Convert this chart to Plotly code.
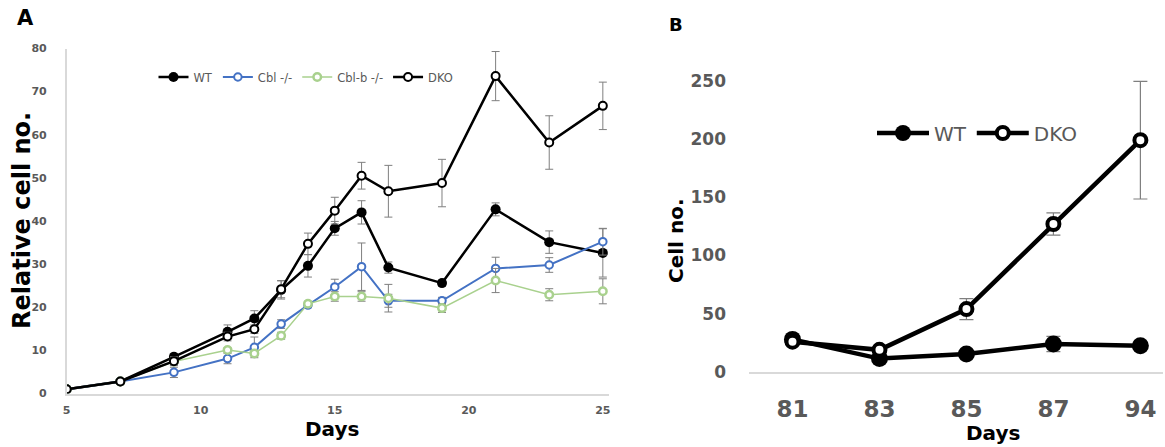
import plotly.graph_objects as go

# ---------------- Panel A data ----------------
days_a = [5, 7, 9, 11, 12, 13, 14, 15, 16, 17, 19, 21, 23, 25]
wt_a = [1, 2.8, 8.5, 14.3, 17.4, 24.0, 29.6, 38.3, 42.0, 29.2, 25.6, 42.7, 35.1, 32.6]
wt_a_err = [0, 0.3, 0.8, 1.6, 1.8, 2.1, 2.6, 1.6, 2.7, 1.3, 0.7, 1.5, 2.6, 5.6]
cbl_a = [1, 2.8, 4.9, 8.1, 10.7, 16.1, 20.5, 24.7, 29.4, 21.5, 21.5, 29.0, 29.8, 35.2]
cbl_a_err = [0, 0.2, 1.2, 1.2, 2.4, 1.0, 0.6, 1.8, 5.5, 1.5, 0.8, 2.6, 1.7, 3.1]
cblb_a = [1, 2.8, 7.4, 10.1, 9.3, 13.4, 20.8, 22.5, 22.5, 22.1, 19.8, 26.2, 22.9, 23.7]
cblb_a_err = [0, 0.2, 0.6, 0.5, 0.6, 0.8, 0.6, 1.1, 1.1, 3.2, 1.0, 2.8, 1.4, 2.9]
dko_a = [1, 2.8, 7.5, 13.2, 14.9, 24.2, 34.7, 42.4, 50.5, 46.9, 48.8, 73.6, 58.2, 66.7]
dko_a_err = [0, 0.2, 1.0, 1.0, 1.0, 2.0, 2.5, 3.1, 3.1, 6.0, 5.5, 5.7, 6.2, 5.5]
xticks_a = [5, 10, 15, 20, 25]
yticks_a = [0, 10, 20, 30, 40, 50, 60, 70, 80]

# ---------------- Panel B data ----------------
days_b = ["81", "83", "85", "87", "94"]
wt_b = [28, 11.5, 15.5, 24, 22.5]
wt_b_err = [2, 2, 2, 6.5, 2]
dko_b = [26, 19, 54, 127, 199]
dko_b_err = [2, 2, 9, 9.5, 50.5]
yticks_b = [0, 50, 100, 150, 200, 250]

W, H = 1165, 447
GREY_TXT = "#595959"
AXIS_LINE = "#d9d9d9"
ERR = "#7f7f7f"

fig = go.Figure()

def err(v, th=1, w=4):
    return dict(type="data", array=v, visible=True, color=ERR, thickness=th, width=w)

fig.add_trace(go.Scatter(x=days_a, y=wt_a, name="WT", mode="lines+markers",
                         line=dict(color="black", width=2.5),
                         marker=dict(symbol="circle", size=10, color="black"),
                         error_y=err(wt_a_err), xaxis="x", yaxis="y", legend="legend"))
fig.add_trace(go.Scatter(x=days_a, y=cbl_a, name="Cbl -/-", mode="lines+markers",
                         line=dict(color="#4472C4", width=2),
                         marker=dict(symbol="circle", size=7.5, color="white",
                                     line=dict(color="#4472C4", width=2)),
                         error_y=err(cbl_a_err), xaxis="x", yaxis="y", legend="legend"))
fig.add_trace(go.Scatter(x=days_a, y=cblb_a, name="Cbl-b -/-", mode="lines+markers",
                         line=dict(color="#A9D18E", width=1.5),
                         marker=dict(symbol="circle", size=7.5, color="white",
                                     line=dict(color="#A9D18E", width=2.5)),
                         error_y=err(cblb_a_err), xaxis="x", yaxis="y", legend="legend"))
fig.add_trace(go.Scatter(x=days_a, y=dko_a, name="DKO", mode="lines+markers",
                         line=dict(color="black", width=2.5),
                         marker=dict(symbol="circle", size=8, color="white",
                                     line=dict(color="black", width=2)),
                         error_y=err(dko_a_err), xaxis="x", yaxis="y", legend="legend"))

fig.add_trace(go.Scatter(x=days_b, y=wt_b, name="WT", mode="lines+markers",
                         line=dict(color="black", width=4.5),
                         marker=dict(symbol="circle", size=17, color="black"),
                         error_y=err(wt_b_err, 1.2, 7), xaxis="x2", yaxis="y2", legend="legend2"))
fig.add_trace(go.Scatter(x=days_b, y=dko_b, name="DKO", mode="lines+markers",
                         line=dict(color="black", width=4.5),
                         marker=dict(symbol="circle", size=12, color="white",
                                     line=dict(color="black", width=4)),
                         error_y=err(dko_b_err, 1.2, 7), xaxis="x2", yaxis="y2", legend="legend2"))

tick_font_a = dict(family="DejaVu Sans", size=11, color=GREY_TXT, weight="bold")
tick_font_b = dict(family="DejaVu Sans", size=17, color=GREY_TXT, weight="bold")

fig.update_layout(
    width=W, height=H,
    margin=dict(l=0, r=0, t=0, b=0, autoexpand=False),
    paper_bgcolor="white", plot_bgcolor="white",
    xaxis=dict(domain=[66.7 / W, 609 / W], range=[5, 25.23], tickvals=xticks_a,
               showgrid=False, zeroline=False, showline=True, linecolor=AXIS_LINE,
               linewidth=1.5, ticks="", tickfont=tick_font_a, ticklabelstandoff=6,
               anchor="y", automargin=False),
    yaxis=dict(domain=[1 - 393.5 / H, 1 - 48.5 / H], range=[0, 80], tickvals=yticks_a,
               showgrid=False, zeroline=False, showline=True, linecolor=AXIS_LINE,
               linewidth=1.5, ticks="", tickfont=tick_font_a, ticklabelstandoff=16,
               anchor="x", automargin=False),
    xaxis2=dict(domain=[749 / W, 1163 / W], range=[-0.5, 4.26], type="category",
                showgrid=False, zeroline=False, showline=True, linecolor=AXIS_LINE,
                linewidth=1.5, ticks="",
                tickfont=dict(family="DejaVu Sans", size=23, color=GREY_TXT, weight="bold"),
                ticklabelstandoff=16, anchor="y2", automargin=False),
    yaxis2=dict(domain=[1 - 372 / H, 1 - 74.9 / H], range=[0, 255], tickvals=yticks_b,
                showgrid=False, zeroline=False, showline=False, ticks="",
                tickfont=tick_font_b, ticklabelstandoff=22, anchor="x2", automargin=False),
    legend=dict(orientation="h", x=306 / W, y=1 - 77 / H, xanchor="center", yanchor="middle",
                font=dict(family="DejaVu Sans", size=11.5, color=GREY_TXT),
                bgcolor="rgba(0,0,0,0)", itemwidth=30, tracegroupgap=0),
    legend2=dict(orientation="h", x=977 / W, y=1 - 133 / H, xanchor="center", yanchor="middle",
                 font=dict(family="DejaVu Sans", size=20, color=GREY_TXT),
                 bgcolor="rgba(0,0,0,0)", itemwidth=52),
    showlegend=True,
)

ann_font = lambda s: dict(family="DejaVu Sans", size=s, color="black", weight="bold")
annotations = [
    dict(text="A", x=25 / W, y=1 - 17.5 / H, font=ann_font(21)),
    dict(text="B", x=676 / W, y=1 - 24 / H, font=ann_font(18)),
    dict(text="Relative cell no.", x=22 / W, y=1 - 221 / H, textangle=-90, font=ann_font(24)),
    dict(text="Days", x=332 / W, y=1 - 429 / H, font=ann_font(20)),
    dict(text="Cell no.", x=676 / W, y=1 - 241 / H, textangle=-90, font=ann_font(20)),
    dict(text="Days", x=993 / W, y=1 - 433 / H, font=ann_font(20)),
]
for a in annotations:
    a.update(xref="paper", yref="paper", xanchor="center", yanchor="middle", showarrow=False)
fig.update_layout(annotations=annotations)

fig.write_html("out.html", config={"displayModeBar": False},
               post_script="document.body.style.margin='0';document.body.style.overflow='hidden';")
